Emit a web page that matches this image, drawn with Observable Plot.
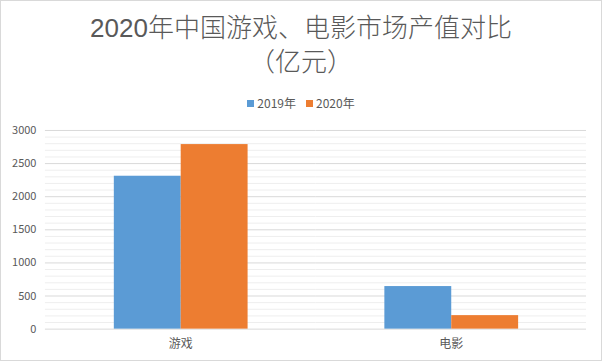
<!DOCTYPE html>
<html><head><meta charset="utf-8">
<script src="https://cdn.jsdelivr.net/npm/d3@7"></script>
<script src="https://cdn.jsdelivr.net/npm/@observablehq/plot@0.6"></script>
<style>
body{margin:0;background:#fff;}
#frame{position:relative;width:602px;height:361px;box-sizing:border-box;border:1px solid #d9d9d9;overflow:hidden;font-family:"Noto Sans CJK SC","Noto Sans",sans-serif;background:#fff;}
.tl{position:absolute;left:-1px;width:602px;text-align:center;font-family:"Liberation Sans","Noto Sans CJK SC",sans-serif;font-size:26px;line-height:30px;height:30px;color:#595959;font-weight:300;white-space:nowrap;}
#t1{top:12px;}
#t2{top:46px;}
#legend{position:absolute;left:-1px;top:94px;width:602px;display:flex;justify-content:center;align-items:center;font-size:12px;color:#595959;line-height:16px;}
.item{display:flex;align-items:center;margin:0 5px;}
.sw{width:7px;height:7px;margin-right:3px;}
#chart{position:absolute;left:-1px;top:114px;}
</style></head>
<body>
<div id="frame">
<div class="tl" id="t1">2020年中国游戏、电影市场产值对比</div>
<div class="tl" id="t2">（亿元）</div>
<div id="legend"></div>
<div id="chart"></div>
</div>
<script>
const categories = ["游戏", "电影"];
const years = ["2019年", "2020年"];
const v2019 = [2309, 643];
const v2020 = [2787, 204];
const colors = ["#5b9bd5", "#ed7d31"];
const yTicks = [0, 500, 1000, 1500, 2000, 2500, 3000];

const data = categories.flatMap((c, i) => [
  {category: c, year: years[0], value: v2019[i]},
  {category: c, year: years[1], value: v2020[i]}
]);
const minor = d3.range(100, 3000, 100).filter(v => v % 500 !== 0);

const legend = document.getElementById("legend");
years.forEach((y, i) => {
  const it = document.createElement("div");
  it.className = "item";
  it.innerHTML = `<span class="sw" style="background:${colors[i]}"></span><span>${y}</span>`;
  legend.appendChild(it);
});

const chart = Plot.plot({
  width: 602, height: 247,
  marginTop: 15, marginBottom: 33, marginLeft: 44, marginRight: 15,
  style: {fontFamily: '"Noto Sans CJK SC","Noto Sans",sans-serif', color: "#595959", background: "transparent", overflow: "visible"},
  fx: {domain: categories, padding: 0, label: null},
  x: {domain: years, axis: null, paddingInner: 0, paddingOuter: 1},
  y: {domain: [0, 3000], label: null},
  color: {domain: years, range: colors},
  marks: [
    Plot.ruleY(minor, {stroke: "#eeeeee"}),
    Plot.ruleY(yTicks, {stroke: "#d9d9d9"}),
    Plot.barY(data, {fx: "category", x: "year", y: "value", fill: "year", inset: 0}),
    Plot.axisY({ticks: yTicks, tickFormat: d3.format("d"), tickSize: 0, tickPadding: 9, fontSize: 11, label: null, fill: "#595959"}),
    Plot.axisFx({anchor: "bottom", tickSize: 0, tickPadding: 10, fontSize: 12, label: null, fill: "#595959"})
  ]
});
document.getElementById("chart").appendChild(chart);
</script>
</body></html>
